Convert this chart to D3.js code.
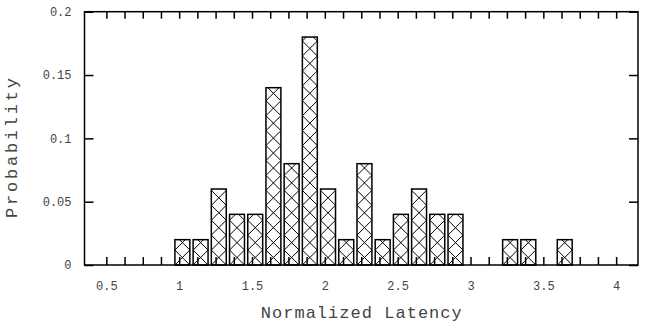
<!DOCTYPE html>
<html>
<head>
<meta charset="utf-8">
<script src="https://cdn.jsdelivr.net/npm/d3@7"></script>
<style>
  body { margin: 0; background: #fff; }
  text { font-family: "Liberation Mono", "DejaVu Sans Mono", monospace; fill: #444; }
</style>
</head>
<body>
<div id="chart"></div>
<script>
// histogram bins (normalized latency) and their probability
const bins = [0.5, 0.625, 0.75, 0.875, 1.0, 1.125, 1.25, 1.375, 1.5, 1.625, 1.75, 1.875,
              2.0, 2.125, 2.25, 2.375, 2.5, 2.625, 2.75, 2.875, 3.0, 3.125, 3.25, 3.375,
              3.5, 3.625, 3.75, 3.875, 4.0];
const probs = [0, 0, 0, 0, 0.02, 0.02, 0.06, 0.04, 0.04, 0.14, 0.08, 0.18,
               0.06, 0.02, 0.08, 0.02, 0.04, 0.06, 0.04, 0.04, 0, 0, 0.02, 0.02,
               0, 0.02, 0, 0, 0];
const xLabels = [0.5, 1, 1.5, 2, 2.5, 3, 3.5, 4];
const yTicks = [0, 0.05, 0.1, 0.15, 0.2];

const width = 645, height = 324;
const margin = { top: 11.7, right: 7, bottom: 59, left: 84.5 };
const iw = width - margin.left - margin.right;
const ih = height - margin.top - margin.bottom;

const binW = 0.125;
const barFrac = 0.82;    // box width relative to bin
const barShift = 0.022;  // boxes sit a bit right of the tic

const svg = d3.select('#chart').append('svg')
    .attr('width', width)
    .attr('height', height);

const g = svg.append('g')
    .attr('transform', `translate(${margin.left},${margin.top})`);

const x = d3.scaleLinear().domain([0.35, 4.15]).range([0, iw]);
const y = d3.scaleLinear().domain([0, 0.2]).range([ih, 0]);

const fmtX = d => xLabels.some(l => Math.abs(l - d) < 1e-9) ? d3.format('')(d) : '';

// bars with crosshatch
const data = bins.map((b, i) => ({ b, p: probs[i] })).filter(d => d.p > 0);
const defs = svg.append('defs');
const bars = g.append('g').attr('class', 'bars');

data.forEach((d, i) => {
    const x0 = x(d.b + barShift - binW * barFrac / 2);
    const x1 = x(d.b + barShift + binW * barFrac / 2);
    const w = x1 - x0;
    const yb = y(0), yt = y(d.p);
    const h = yb - yt;

    defs.append('clipPath').attr('id', 'clip' + i)
      .append('rect')
        .attr('x', x0).attr('y', yt).attr('width', w).attr('height', h);

    const hatch = bars.append('g').attr('clip-path', `url(#clip${i})`);
    const n = Math.ceil(h / w) + 1;
    for (let k = 0; k < n; k++) {
        hatch.append('line')
            .attr('x1', x0).attr('y1', yb - k * w)
            .attr('x2', x1).attr('y2', yb - (k + 1) * w);
        hatch.append('line')
            .attr('x1', x1).attr('y1', yb - k * w)
            .attr('x2', x0).attr('y2', yb - (k + 1) * w);
    }
    hatch.selectAll('line')
        .attr('stroke', '#000')
        .attr('stroke-width', 1);

    bars.append('rect')
        .attr('x', x0).attr('y', yt)
        .attr('width', w).attr('height', h)
        .attr('fill', 'none')
        .attr('stroke', '#000')
        .attr('stroke-width', 1.5);
});

// axes (tics point inward)
g.append('g')
    .attr('transform', `translate(0,${ih})`)
    .call(d3.axisBottom(x).tickValues(bins).tickSize(-8).tickPadding(16).tickFormat(fmtX));

g.append('g')
    .call(d3.axisTop(x).tickValues(bins).tickSize(-7).tickFormat(''));

g.append('g')
    .call(d3.axisLeft(y).tickValues(yTicks).tickSize(-9).tickPadding(13).tickFormat(d3.format('')));

g.append('g')
    .attr('transform', `translate(${iw},0)`)
    .call(d3.axisRight(y).tickValues(yTicks).tickSize(-9).tickFormat(''));

g.selectAll('.domain').remove();
g.selectAll('.tick line').attr('stroke', '#000').attr('stroke-width', 1.5);
g.selectAll('.tick text').attr('font-size', 12).attr('fill', '#555')
    .attr('font-family', '"Liberation Mono", "DejaVu Sans Mono", monospace');

// frame
g.append('rect')
    .attr('width', iw).attr('height', ih)
    .attr('fill', 'none')
    .attr('stroke', '#000')
    .attr('stroke-width', 1.5);

// axis titles
svg.append('text')
    .attr('x', margin.left + iw / 2)
    .attr('y', 317.5)
    .attr('text-anchor', 'middle')
    .attr('font-size', 17)
    .attr('textLength', 201)
    .attr('lengthAdjust', 'spacing')
    .text('Normalized Latency');

svg.append('text')
    .attr('transform', 'translate(17,148) rotate(-90)')
    .attr('text-anchor', 'middle')
    .attr('font-size', 17)
    .attr('textLength', 140)
    .attr('lengthAdjust', 'spacing')
    .text('Probability');
</script>
</body>
</html>
